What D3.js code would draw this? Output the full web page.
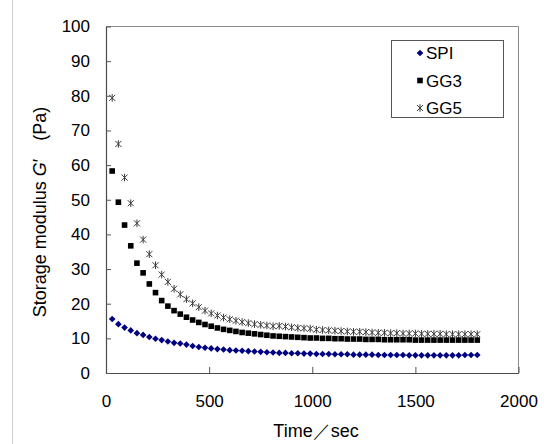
<!DOCTYPE html>
<html>
<head>
<meta charset="utf-8">
<script src="https://cdn.jsdelivr.net/npm/d3@7/dist/d3.min.js"></script>
<style>
  html, body { margin: 0; padding: 0; background: #fff; }
  svg { display: block; }
  text { font-family: "Liberation Sans", Arial, sans-serif; fill: #000; }
</style>
</head>
<body>
<script>
// Sampling times (sec)
const times = [30, 60, 90, 120, 150, 180, 210, 240, 270, 300,
  330, 360, 390, 420, 450, 480, 510, 540, 570, 600,
  630, 660, 690, 720, 750, 780, 810, 840, 870, 900,
  930, 960, 990, 1020, 1050, 1080, 1110, 1140, 1170, 1200,
  1230, 1260, 1290, 1320, 1350, 1380, 1410, 1440, 1470, 1500,
  1530, 1560, 1590, 1620, 1650, 1680, 1710, 1740, 1770, 1800];

// Storage modulus G' (Pa)
const spi = [15.6, 14.1, 13.1, 12.3, 11.5, 11.0, 10.4, 9.9, 9.5, 9.1,
  8.7, 8.5, 8.2, 7.8, 7.5, 7.3, 7.1, 6.9, 6.8, 6.6,
  6.5, 6.4, 6.3, 6.2, 6.1, 6.0, 5.9, 5.8, 5.8, 5.7,
  5.7, 5.6, 5.6, 5.5, 5.5, 5.5, 5.4, 5.4, 5.4, 5.3,
  5.3, 5.3, 5.3, 5.2, 5.2, 5.2, 5.2, 5.2, 5.1, 5.1,
  5.1, 5.1, 5.1, 5.1, 5.1, 5.1, 5.1, 5.2, 5.2, 5.2];

const gg3 = [58.3, 49.3, 42.7, 36.7, 31.7, 28.9, 25.7, 23.2, 20.9, 19.3,
  18.0, 17.0, 16.1, 15.3, 14.6, 14.0, 13.5, 13.0, 12.6, 12.3,
  12.0, 11.7, 11.5, 11.3, 11.1, 10.9, 10.7, 10.6, 10.5, 10.4,
  10.3, 10.2, 10.1, 10.1, 10.0, 10.0, 9.9, 9.9, 9.8, 9.8,
  9.8, 9.7, 9.7, 9.7, 9.6, 9.6, 9.6, 9.6, 9.6, 9.5,
  9.5, 9.5, 9.5, 9.5, 9.5, 9.5, 9.5, 9.5, 9.5, 9.5];

const gg5 = [79.4, 66.1, 56.4, 49.0, 43.2, 38.5, 34.3, 31.1, 28.4, 26.3,
  24.3, 22.7, 21.3, 20.1, 19.0, 18.0, 17.2, 16.6, 16.0, 15.5,
  15.1, 14.7, 14.4, 14.1, 13.9, 13.7, 13.5, 13.6, 13.4, 13.2,
  13.0, 12.9, 12.8, 12.5, 12.4, 12.3, 12.2, 12.1, 12.0, 11.9,
  11.9, 11.8, 11.7, 11.6, 11.6, 11.5, 11.5, 11.4, 11.4, 11.4,
  11.3, 11.3, 11.3, 11.3, 11.2, 11.2, 11.2, 11.2, 11.2, 11.2];

const seriesNames = ["SPI", "GG3", "GG5"];
const xTicks = [0, 500, 1000, 1500, 2000];
const yTicks = [0, 10, 20, 30, 40, 50, 60, 70, 80, 90, 100];

const W = 544, H = 444;
const svg = d3.select("body").append("svg").attr("width", W).attr("height", H);

// thin grey rule at the left edge of the frame
svg.append("line").attr("x1", 12.5).attr("x2", 12.5).attr("y1", 0).attr("y2", H)
  .attr("stroke", "#cfcfcf").attr("stroke-width", 1);

const x = d3.scaleLinear().domain([0, 2000]).range([106, 518.5]);
const y = d3.scaleLinear().domain([0, 100]).range([373, 26.5]);

// plot frame: lighter top/right, darker axes
svg.append("line").attr("x1", x(0)).attr("x2", x(2000)).attr("y1", y(100)).attr("y2", y(100))
  .attr("stroke", "#8a8a8a");
svg.append("line").attr("x1", x(2000)).attr("x2", x(2000)).attr("y1", y(100)).attr("y2", y(0))
  .attr("stroke", "#8a8a8a");

const xAxis = d3.axisBottom(x).tickValues(xTicks).tickFormat(d3.format("d"))
  .tickSizeInner(-6).tickSizeOuter(0).tickPadding(22);
const yAxis = d3.axisLeft(y).tickValues(yTicks).tickFormat(d3.format("d"))
  .tickSizeInner(-5).tickSizeOuter(0).tickPadding(16);

const gx = svg.append("g").attr("transform", `translate(0,${y(0)})`).call(xAxis);
const gy = svg.append("g").attr("transform", `translate(${x(0)},0)`).call(yAxis);
[gx, gy].forEach(g => {
  g.select(".domain").attr("stroke", "#4a4a4a").attr("stroke-width", 1.2);
  g.selectAll(".tick line").attr("stroke", "#555");
  g.selectAll(".tick text").attr("font-size", 17).attr("fill", "#000")
    .attr("font-family", '"Liberation Sans", Arial, sans-serif');
});
gx.selectAll(".tick text").attr("dy", "0.71em");

// axis titles
svg.append("text").attr("x", 316).attr("y", 437).attr("text-anchor", "middle")
  .attr("font-size", 18).attr("font-family", '"Noto Sans CJK JP", sans-serif')
  .text("Time／sec");

const yt = svg.append("text").attr("transform", "translate(46,212) rotate(-90)")
  .attr("text-anchor", "middle").attr("font-size", 18);
yt.append("tspan").text("Storage modulus ");
yt.append("tspan").attr("font-style", "italic").text("G");
yt.append("tspan").text("′\u2003(Pa)");

// marker shapes
const diamond = r => `M0,${-r}L${r},0L0,${r}L${-r},0Z`;
const square = s => `M${-s/2},${-s/2}h${s}v${s}h${-s}Z`;
const star = r => {
  const a = r * 0.8;
  return `M0,${-r}V${r}M${-a},${-a}L${a},${a}M${a},${-a}L${-a},${a}`;
};

const styles = {
  SPI: { d: diamond(3.3), fill: "#000080", stroke: "none" },
  GG3: { d: square(5.6), fill: "#000", stroke: "none" },
  GG5: { d: star(3.8), fill: "none", stroke: "#3a3a3a" }
};

const data = { SPI: spi, GG3: gg3, GG5: gg5 };
const plot = svg.append("g");
["GG5", "GG3", "SPI"].forEach(name => {
  const st = styles[name];
  plot.append("g").selectAll("path").data(times.map((t, i) => [t, data[name][i]]))
    .join("path")
    .attr("transform", d => `translate(${x(d[0])},${y(d[1])})`)
    .attr("d", st.d).attr("fill", st.fill).attr("stroke", st.stroke).attr("stroke-width", 1);
});

// legend
const lg = svg.append("g");
lg.append("rect").attr("x", 391.5).attr("y", 40.5).attr("width", 112).attr("height", 77)
  .attr("fill", "#fff").attr("stroke", "#555");
seriesNames.forEach((name, i) => {
  const cy = 53 + i * 27.5;
  const st = styles[name];
  lg.append("path").attr("transform", `translate(420,${cy})`).attr("d", st.d)
    .attr("fill", st.fill).attr("stroke", st.stroke);
  lg.append("text").attr("x", 426).attr("y", cy).attr("dy", "0.36em")
    .attr("font-size", 17).text(name);
});
</script>
</body>
</html>
